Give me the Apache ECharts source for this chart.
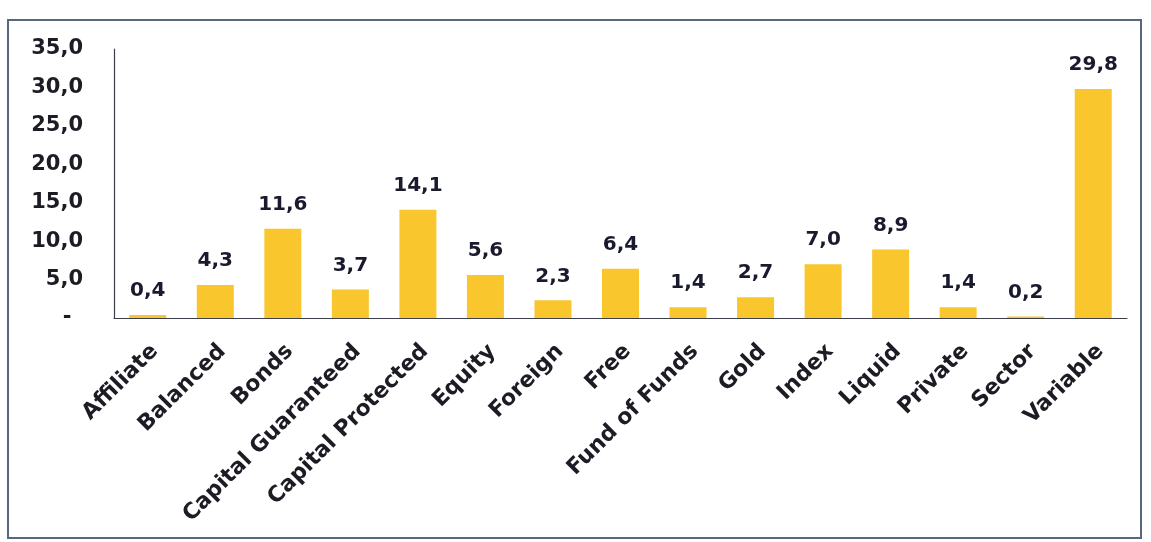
<!DOCTYPE html>
<html>
<head>
<meta charset="utf-8">
<script src="https://cdn.jsdelivr.net/npm/echarts@6/dist/echarts.min.js"></script>
<style>
  html, body { margin: 0; padding: 0; background: #ffffff; }
  #chart { width: 1151px; height: 542px; }
</style>
</head>
<body>
<div id="chart"></div>
<script>
// Fund categories and their share (%)
const categories = [
  'Affiliate', 'Balanced', 'Bonds', 'Capital Guaranteed', 'Capital Protected',
  'Equity', 'Foreign', 'Free', 'Fund of Funds', 'Gold', 'Index', 'Liquid',
  'Private', 'Sector', 'Variable'
];
const shares = [0.4, 4.3, 11.6, 3.7, 14.1, 5.6, 2.3, 6.4, 1.4, 2.7, 7.0, 8.9, 1.4, 0.2, 29.8];

const yMin = 0, yMax = 35, yStep = 5;

const FONT = 'DejaVu Sans';
const TEXT_DARK = '#1c1c24';

// decimal comma, zero shown as a dash
function fmt(v) {
  if (v === 0) return '- \u2009';
  return v.toFixed(1).replace('.', ',');
}

const chart = echarts.init(document.getElementById('chart'), null, { renderer: 'canvas' });

chart.setOption({
  backgroundColor: '#ffffff',
  animation: false,
  grid: [
    // plotting area
    { left: 114, right: 24, top: 49, bottom: 224, containLabel: false },
    // category label strip, nudged right of the bars
    { left: 121, right: 17, top: 49, bottom: 224, containLabel: false }
  ],
  xAxis: [
    {
      type: 'category',
      gridIndex: 0,
      data: categories,
      axisLine: { show: true, lineStyle: { color: '#3a3f4a', width: 1.2 } },
      axisTick: { show: false },
      axisLabel: { show: false }
    },
    {
      type: 'category',
      gridIndex: 1,
      data: categories,
      axisLine: { show: false },
      axisTick: { show: false },
      axisLabel: {
        show: true,
        interval: 0,
        rotate: 45,
        margin: 30,
        color: TEXT_DARK,
        fontFamily: FONT,
        fontWeight: 'bold',
        fontSize: 22
      }
    }
  ],
  yAxis: [
    {
      type: 'value',
      gridIndex: 0,
      min: yMin,
      max: yMax,
      interval: yStep,
      axisLine: { show: true, lineStyle: { color: '#3a3f4a', width: 1.2 } },
      axisTick: { show: false },
      splitLine: { show: false },
      axisLabel: {
        margin: 31,
        color: TEXT_DARK,
        fontFamily: FONT,
        fontWeight: 'bold',
        fontSize: 21,
        formatter: fmt
      }
    },
    {
      type: 'value',
      gridIndex: 1,
      min: yMin,
      max: yMax,
      show: false
    }
  ],
  series: [
    {
      type: 'bar',
      xAxisIndex: 0,
      yAxisIndex: 0,
      data: shares,
      barWidth: 37,
      itemStyle: { color: '#F9C62E' },
      label: {
        show: true,
        position: 'top',
        distance: 14,
        color: '#1a1a2e',
        fontFamily: FONT,
        fontWeight: 'bold',
        fontSize: 20,
        formatter: p => fmt(p.value)
      }
    }
  ],
  graphic: [
    {
      type: 'rect',
      shape: { x: 8, y: 20, width: 1133, height: 518 },
      style: { fill: 'none', stroke: '#56677e', lineWidth: 2 },
      silent: true
    }
  ]
});
</script>
</body>
</html>
